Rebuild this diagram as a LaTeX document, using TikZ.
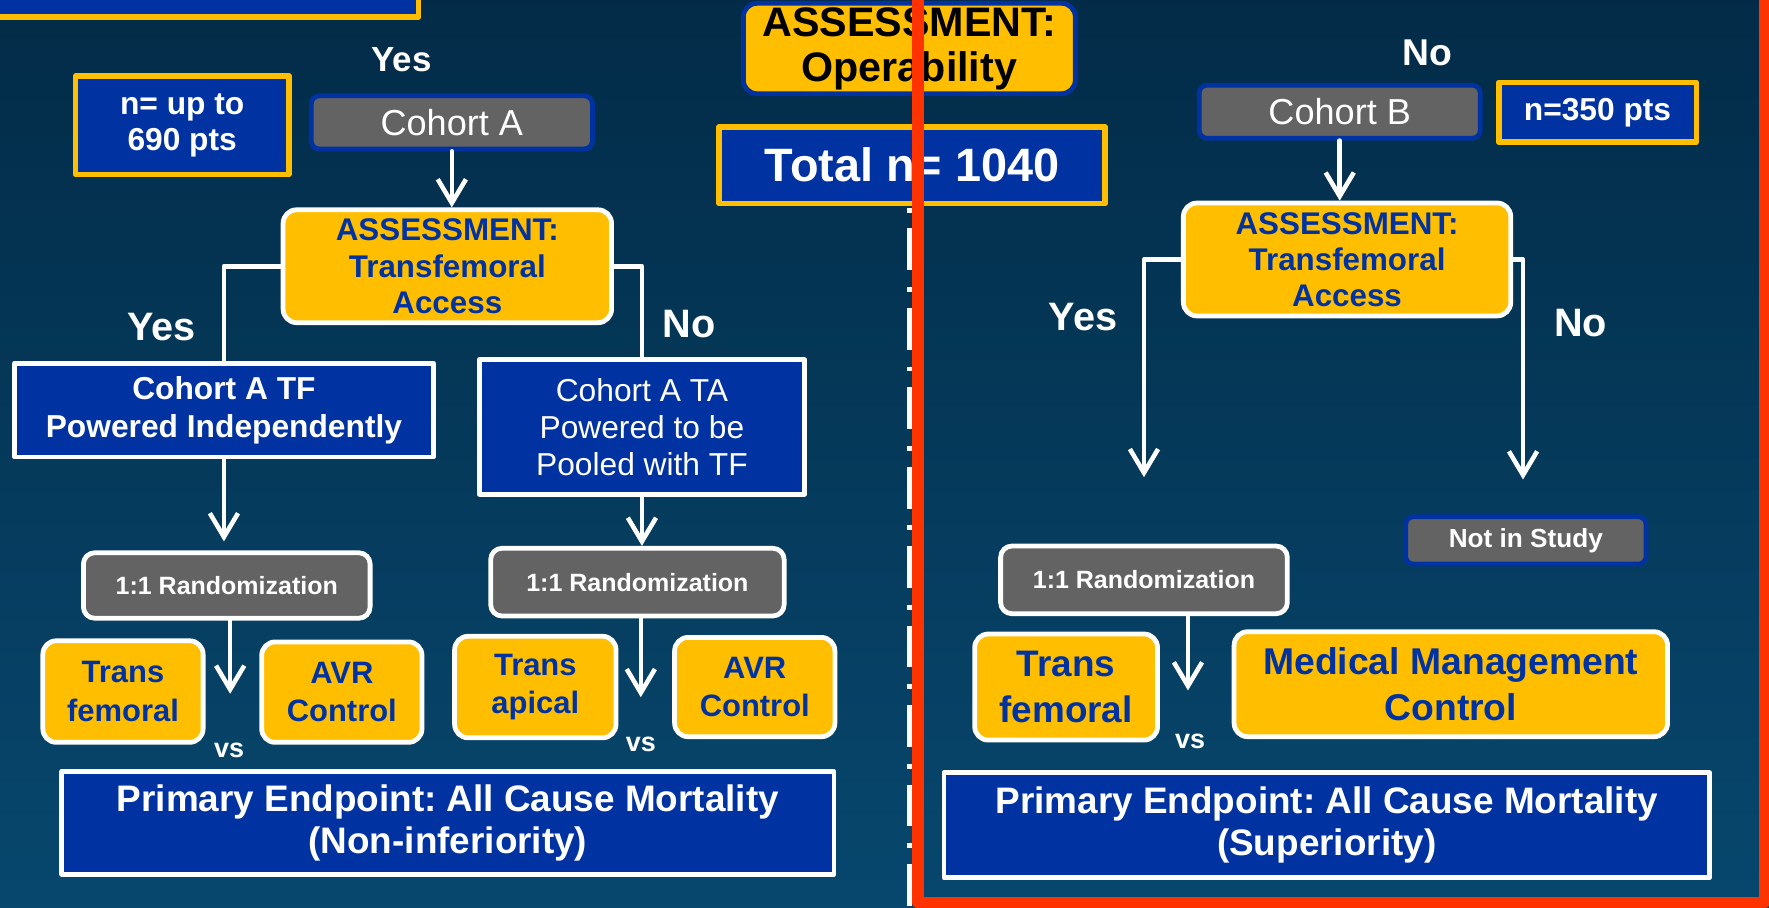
\documentclass[tikz,border=0pt]{standalone}
\usepackage{fontspec}
\setmainfont{Liberation Sans}
\usetikzlibrary{arrows.meta}
\frenchspacing
\definecolor{qqzzaa}{rgb}{0,0.2,0.63}
\definecolor{ffbfqq}{rgb}{1,0.75,0}
\definecolor{wwwwww}{rgb}{0.39,0.39,0.39}
\definecolor{ffzzqq}{rgb}{1,0.2,0}
\definecolor{qqbbhh}{rgb}{0.01,0.17,0.28}
\definecolor{qqhhoo}{rgb}{0.03,0.28,0.43}
\newcommand{\fsz}[2]{\fontsize{#1}{#2}\selectfont}

\begin{document}
\begin{tikzpicture}[line cap=round,line join=round,x=0.01cm,y=-0.01cm,
	fl/.style={-{Straight Barb[length=0.21cm,width=0.25cm]},white,line width=1.15pt},
	ln/.style={white,line width=1.15pt},
	nbox/.style={draw=ffbfqq,fill=qqzzaa,line width=1.4pt,text=white,align=center,inner sep=0pt},
	wbox/.style={draw=white,fill=qqzzaa,line width=1.2pt,text=white,align=center,inner sep=0pt},
	ybox/.style={draw=white,fill=ffbfqq,line width=1.2pt,rounded corners=0.12cm,text=qqzzaa,align=center,inner sep=0pt},
	gbox/.style={draw=white,fill=wwwwww,line width=1.2pt,rounded corners=0.1cm,text=white,align=center,inner sep=0pt},
	cbox/.style={draw=qqzzaa,fill=wwwwww,line width=1.2pt,rounded corners=0.07cm,text=white,align=center,inner sep=0pt},
	lbl/.style={text=white,inner sep=0pt}]
		\useasboundingbox (0,0) rectangle (1568,804);
		\shade[top color=qqbbhh,bottom color=qqhhoo] (0,0) rectangle (1568,804);
		\node[nbox,minimum width=3.79cm,minimum height=0.23cm] (top) at (181.5,3.5) {};
		\node[nbox,font=\fsz{8}{9.1}\bfseries,minimum width=1.89cm,minimum height=0.87cm] (nA) at (161.5,111) {n= up to\\690 pts};
		\node[lbl,font=\fsz{8.8}{10}\bfseries] (yesA) at (356,53) {Yes};
		\node[cbox,font=\fsz{9.1}{10},minimum width=2.49cm,minimum height=0.47cm] (cohA) at (400.5,108.5) {Cohort A};
		\node[ybox,font=\fsz{7.9}{9.1}\bfseries,minimum width=2.91cm,minimum height=1cm] (assA) at (396.5,236) {ASSESSMENT:\\Transfemoral\\Access};
		\node[lbl,font=\fsz{10}{11}\bfseries] (yesL) at (143,290) {Yes};
		\node[lbl,font=\fsz{10}{11}\bfseries] (noL) at (611,287) {No};
		\node[wbox,font=\fsz{8}{9.7}\bfseries,minimum width=3.71cm,minimum height=0.83cm] (tfA) at (198.5,363.5) {Cohort A TF\\Powered Independently};
		\node[wbox,font=\fsz{8}{9.4},minimum width=2.88cm,minimum height=1.19cm] (taA) at (569,378.5) {Cohort A TA\\Powered to be\\Pooled with TF};
		\node[gbox,font=\fsz{6.3}{7.5}\bfseries,minimum width=2.54cm,minimum height=0.58cm] (rndA) at (201,519) {1:1 Randomization};
		\node[gbox,font=\fsz{6.3}{7.5}\bfseries,minimum width=2.6cm,minimum height=0.6cm] (rndB) at (565,516) {1:1 Randomization};
		\node[ybox,font=\fsz{7.8}{9.7}\bfseries,minimum width=1.42cm,minimum height=0.9cm] (femA) at (109,613) {Trans\\femoral};
		\node[ybox,font=\fsz{7.8}{9.7}\bfseries,minimum width=1.42cm,minimum height=0.89cm] (avrA) at (303,613.5) {AVR\\Control};
		\node[ybox,font=\fsz{7.8}{9.7}\bfseries,minimum width=1.43cm,minimum height=0.9cm] (apiB) at (474.5,609) {Trans\\apical};
		\node[ybox,font=\fsz{7.8}{9.7}\bfseries,minimum width=1.42cm,minimum height=0.88cm] (avrB) at (669,609) {AVR\\Control};
		\node[lbl,font=\fsz{6.8}{8}\bfseries] (vsA) at (203,665) {vs};
		\node[lbl,font=\fsz{6.8}{8}\bfseries] (vsB) at (568,660) {vs};
		\node[wbox,font=\fsz{9.3}{10.5}\bfseries,minimum width=6.84cm,minimum height=0.91cm] (endA) at (397,729.5) {Primary Endpoint: All Cause Mortality\\(Non-inferiority)};
		\node[ybox,draw=qqzzaa,text=black,font=\fsz{10.4}{11.4}\bfseries,minimum width=2.94cm,minimum height=0.8cm] (oper) at (806,43) {ASSESSMENT:\\Operability};
		\node[nbox,font=\fsz{11.8}{13}\bfseries,minimum width=3.42cm,minimum height=0.68cm] (tot) at (808.5,146.5) {Total n= 1040};
		\node[lbl,font=\fsz{9.4}{10.5}\bfseries] (noB) at (1265,47) {No};
		\node[cbox,font=\fsz{9.1}{10},minimum width=2.49cm,minimum height=0.47cm] (cohB) at (1187.5,99) {Cohort B};
		\node[nbox,font=\fsz{8}{9}\bfseries,minimum width=1.75cm,minimum height=0.53cm] (nB) at (1416,99.5) {n=350 pts};
		\node[ybox,font=\fsz{7.9}{9.1}\bfseries,minimum width=2.9cm,minimum height=1cm] (assB) at (1194,230) {ASSESSMENT:\\Transfemoral\\Access};
		\node[lbl,font=\fsz{10}{11}\bfseries] (yesR) at (960,281) {Yes};
		\node[lbl,font=\fsz{10}{11}\bfseries] (noR) at (1401,286) {No};
		\coordinate (ya) at (1014,423);
		\coordinate (na) at (1350,425);
		\node[cbox,font=\fsz{6.6}{7.5}\bfseries,minimum width=2.13cm,minimum height=0.42cm] (out) at (1352.5,479) {Not in Study};
		\node[gbox,font=\fsz{6.3}{7.5}\bfseries,minimum width=2.54cm,minimum height=0.6cm] (rndC) at (1014,514) {1:1 Randomization};
		\node[ybox,font=\fsz{9.3}{11.4}\bfseries,minimum width=1.62cm,minimum height=0.94cm] (femC) at (945,609) {Trans\\femoral};
		\node[ybox,font=\fsz{9.4}{11.4}\bfseries,minimum width=3.84cm,minimum height=0.93cm] (medC) at (1286,606.5) {Medical Management\\Control};
		\node[lbl,font=\fsz{6.8}{8}\bfseries] (vsC) at (1055,657) {vs};
		\node[wbox,font=\fsz{9.3}{10.5}\bfseries,minimum width=6.78cm,minimum height=0.93cm] (endC) at (1176,731.5) {Primary Endpoint: All Cause Mortality\\(Superiority)};
		\coordinate (va) at (204,615);
		\coordinate (vb) at (568,618);
		\coordinate (vc) at (1053,612);
		\draw[fl] (cohA.south) -- (cohA.south |- assA.north);
		\draw[ln] (assA.west) -| (tfA.north);
		\draw[ln] (assA.east) -| (taA.north);
		\draw[fl,shorten >=0.08cm] (tfA.south) -- (tfA.south |- rndA.north);
		\draw[fl] (taA.south) -- (taA.south |- rndB.north);
		\draw[fl] (va |- rndA.south) -- (va);
		\draw[fl] (vb |- rndB.south) -- (vb);
		\draw[fl] (cohB.south) -- (cohB.south |- assB.north);
		\draw[fl] (assB.west) -| (ya);
		\draw[fl] (assB.east) -| (na);
		\draw[fl] (vc |- rndC.south) -- (vc);
		\draw[white,line width=1.4pt,line cap=butt,dash pattern=on 1.25pt off 3.98pt on 10.53pt off 4.27pt] (806,184) -- (806,804);
		\draw[ffzzqq,line width=2.9pt,line cap=butt] (813.5,-10) -- (813.5,800) -- (1564,800) -- (1564,-10);
	\end{tikzpicture}
\end{document}
